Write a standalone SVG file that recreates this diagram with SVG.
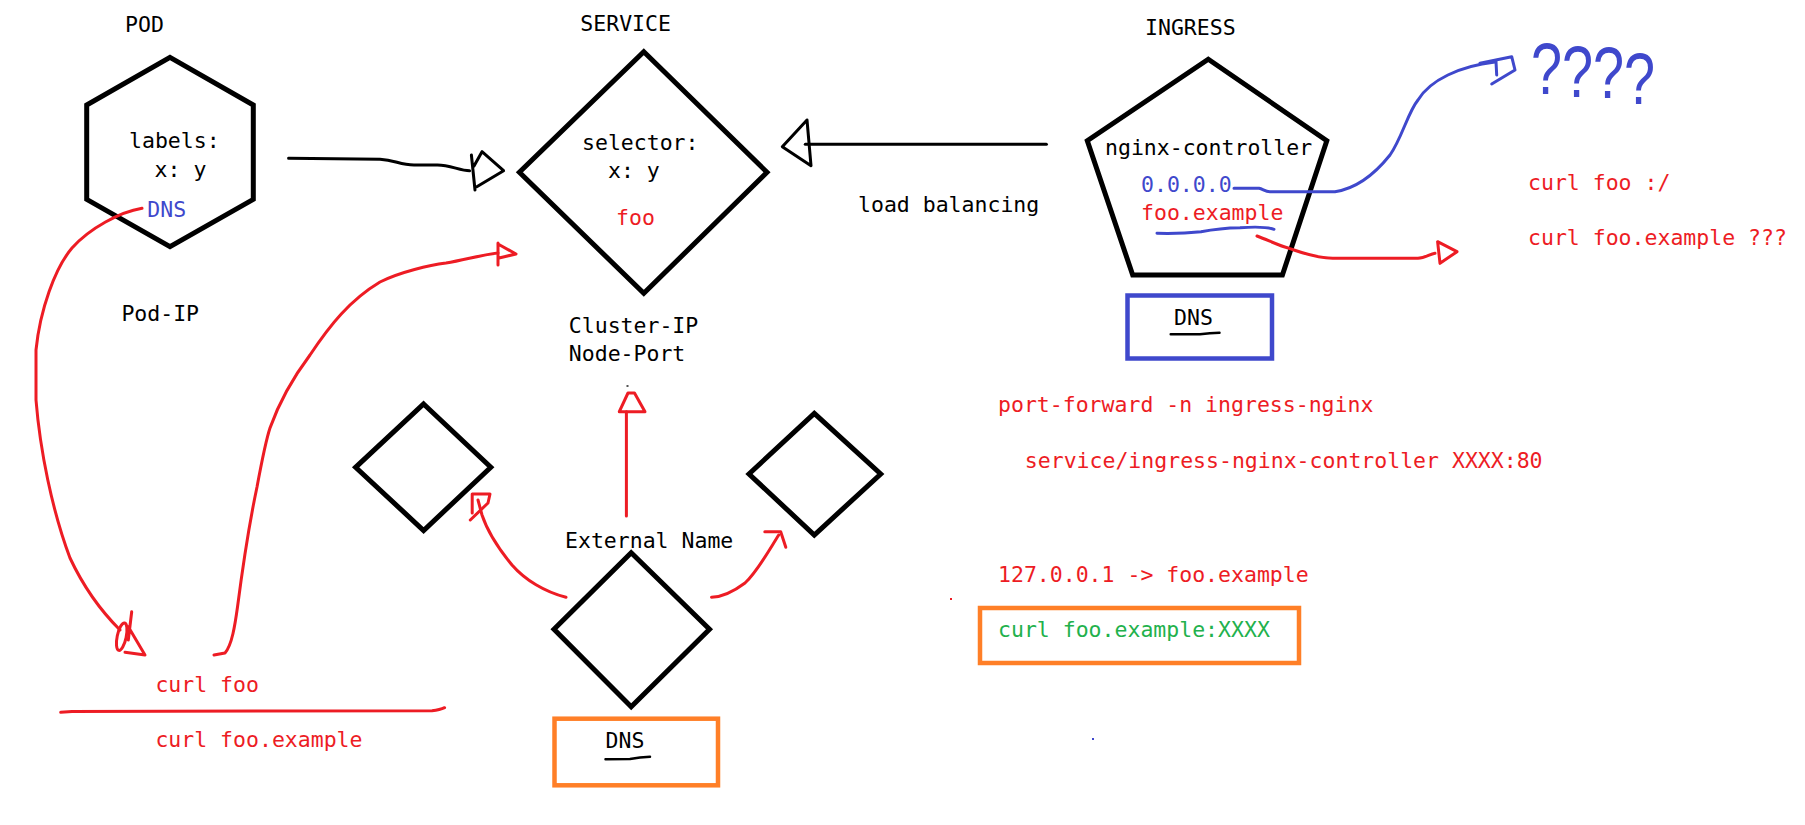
<svg xmlns="http://www.w3.org/2000/svg" width="1805" height="825" viewBox="0 0 1805 825">
<style>
.t{font-family:"DejaVu Sans Mono","Liberation Mono",monospace;font-size:21.5px;fill:#000}
.r{fill:#ed1c24}
.b{fill:#3f48cc}
.g{fill:#22b14c}
.q{font-family:"Liberation Sans","DejaVu Sans",sans-serif;font-size:72px;fill:#3f48cc}
.shape{fill:none;stroke:#000;stroke-width:5;stroke-linejoin:miter}
.rl{fill:none;stroke:#ed1c24;stroke-width:3;stroke-linecap:round;stroke-linejoin:round}
.bl{fill:none;stroke:#3f48cc;stroke-width:3;stroke-linecap:round;stroke-linejoin:round}
.kl{fill:none;stroke:#000;stroke-width:3;stroke-linecap:round;stroke-linejoin:round}
.ul{fill:none;stroke:#000;stroke-width:2.5;stroke-linecap:round}
</style>
<rect width="1805" height="825" fill="#fff"/>

<g id="pod">
  <text class="t" x="125" y="32">POD</text>
  <polygon class="shape" points="170,57.3 253.3,105 253.3,199.3 170,246.7 86.7,199.3 86.7,105"/>
  <text class="t" x="129" y="148.3">labels:</text>
  <text class="t" x="154.6" y="176.7">x: y</text>
  <text class="t b" x="147.3" y="216.7">DNS</text>
  <text class="t" x="121.4" y="320.7">Pod-IP</text>
</g>

<g id="service">
  <text class="t" x="580.3" y="30.7">SERVICE</text>
  <polygon class="shape" points="643.8,51.7 767,172.3 643.8,293.3 519.4,172.3"/>
  <text class="t" x="582" y="150">selector:</text>
  <text class="t" x="608" y="178.3">x: y</text>
  <text class="t r" x="616" y="225">foo</text>
  <text class="t" x="568.8" y="333.3">Cluster-IP</text>
  <text class="t" x="568.8" y="361">Node-Port</text>
</g>

<g id="ingress">
  <text class="t" x="1145" y="35">INGRESS</text>
  <polygon class="shape" points="1208.3,59.3 1326.8,140.7 1282.4,275 1132.7,275 1087.3,140.7"/>
  <text class="t" x="1105" y="155">nginx-controller</text>
  <text class="t b" x="1141" y="191.7">0.0.0.0</text>
  <text class="t r" x="1141" y="220">foo.example</text>
  <path class="bl" d="M1157,233.3 Q1180,234 1201,231.7 Q1220,228 1240,227.7 Q1265,226 1274,229.3"/>
</g>

<g id="ingress-dns">
  <rect x="1127.5" y="295.5" width="144.5" height="63" fill="none" stroke="#3f48cc" stroke-width="4.5"/>
  <text class="t" x="1174" y="325">DNS</text>
  <path class="ul" d="M1170.7,334.3 L1200,334.3 Q1210,333 1219.5,332.7"/>
</g>

<g id="notes-right">
  <text class="t r" x="1528" y="190">curl foo :/</text>
  <text class="t r" x="1528" y="245">curl foo.example ???</text>
  <text class="q" x="1531" y="94" dy="0 3 1 6" textLength="124" lengthAdjust="spacingAndGlyphs">????</text>
</g>

<g id="port-forward">
  <text class="t r" x="998" y="411.7">port-forward -n ingress-nginx</text>
  <text class="t r" x="1024.8" y="468.3">service/ingress-nginx-controller XXXX:80</text>
  <text class="t r" x="998" y="581.7">127.0.0.1 -&gt; foo.example</text>
  <rect x="980" y="608" width="319" height="55" fill="none" stroke="#ff7f27" stroke-width="4.5"/>
  <text class="t g" x="998" y="636.7">curl foo.example:XXXX</text>
</g>

<g id="curl-left">
  <text class="t r" x="155.4" y="691.7">curl foo</text>
  <path class="rl" d="M60.7,712.3 L72,711.5 L432,710.7 Q440,710 444.6,707.7"/>
  <text class="t r" x="155.4" y="747.3">curl foo.example</text>
</g>

<g id="lb-label">
  <text class="t" x="858" y="211.7">load balancing</text>
</g>

<g id="diamond-left">
  <polygon class="shape" points="423.6,404 490.8,467.3 423.6,530.5 355.6,467.3"/>
</g>
<g id="diamond-right">
  <polygon class="shape" points="814.3,413.3 880.7,474 814.3,535 749,474"/>
</g>
<g id="external-name">
  <text class="t" x="565" y="548.3">External Name</text>
  <polygon class="shape" points="631.2,552.7 709.5,629.3 631.2,706.7 554,629.3"/>
</g>
<g id="external-dns">
  <rect x="554.5" y="718.7" width="163.5" height="66.6" fill="none" stroke="#ff7f27" stroke-width="4.5"/>
  <text class="t" x="605.5" y="748.3">DNS</text>
  <path class="ul" d="M605.5,759.3 L630,759 Q640,757 650,756.7"/>
</g>

<g id="connectors">
  <!-- pod -> service -->
  <path class="kl" d="M288.6,158.3 L380,159.3 C395,160 400,165 414,165 L437.5,165 C450,165 460,170.7 469.6,170.7"/>
  <path class="kl" d="M471.4,155 L475,190 M476.8,186.7 L503.6,170.7 L482,151.7 L474,166"/>
  <!-- ingress -> service -->
  <path class="kl" d="M1046.4,144.3 L805.3,144.3"/>
  <path class="kl" d="M807,120 L782.3,146.7 L811,165.7 L807,120"/>
  <!-- DNS -> curl -->
  <path class="rl" d="M142,208.3 C120,212 90,228 72,248 C55,268 40,310 36,350 L36,400 C40,450 52,510 70,558 C85,590 105,615 120,630"/>
  <path class="rl" d="M131.7,611.7 L128.3,640 M128.3,626.7 L145,655 L125,652.3"/>
  <ellipse cx="121.7" cy="636.7" rx="4.5" ry="14" transform="rotate(12 121.7 636.7)" fill="none" stroke="#ed1c24" stroke-width="3"/>
  <!-- curl -> service -->
  <path class="rl" d="M214,655 L225,653 C232,645 235,625 237.5,607 C241,580 250,520 257,487 C262,460 266,440 270,428 C280,400 295,375 310,355 C330,325 350,300 380,282 C400,272 430,265 446,263 C465,260 480,255 498,253"/>
  <path class="rl" d="M498,243 L498,265 M498,244 L516,254 L499,258"/>
  <!-- external name -> cluster ip -->
  <path class="rl" d="M626.4,516 L626.4,411.7"/>
  <path class="rl" d="M619.3,411.7 L628,393 L634.5,393 L645,411.7 Z"/>
  <rect x="626.5" y="385" width="2" height="2" fill="#555"/>
  <!-- external name -> left diamond -->
  <path class="rl" d="M566,597.3 C545,592 525,580 512,565 C498,548 487,530 482,515 L478,500"/>
  <path class="rl" d="M472.2,513 L472.2,494 L490,494 L488,503 L470.3,520"/>
  <!-- external name -> right diamond -->
  <path class="rl" d="M711.5,597.3 C722,597 733,592 745,583 C757,572 768,552 778.7,535"/>
  <path class="rl" d="M764.8,531.7 L780.7,531.7 L785.8,547.3"/>
  <!-- foo.example -> curl notes -->
  <path class="rl" d="M1257,236 C1270,241 1280,246 1289,248.3 C1300,252 1315,258 1332.7,258.3 L1418,258.3 C1425,258 1430,254 1435,253.3"/>
  <path class="rl" d="M1437.6,241.7 L1457,251.7 L1440,263.3 Z"/>
  <!-- 0.0.0.0 -> ???? -->
  <path class="bl" d="M1234,188.3 L1259,188.3 C1263,189 1265,191.7 1270,191.7 L1335,191.7 C1360,188 1378,170 1390,155 C1402,138 1408,112 1418,100 C1430,80 1460,66 1495,62"/>
  <path class="bl" d="M1480,63.3 L1511.7,56.7 L1515,70 L1491.7,84 M1496,61.7 L1496.7,75"/>
  <!-- specks -->
  <rect x="950" y="598" width="2" height="2" fill="#ed1c24"/>
  <rect x="1092" y="738" width="2" height="2" fill="#3f48cc"/>
</g>
</svg>
